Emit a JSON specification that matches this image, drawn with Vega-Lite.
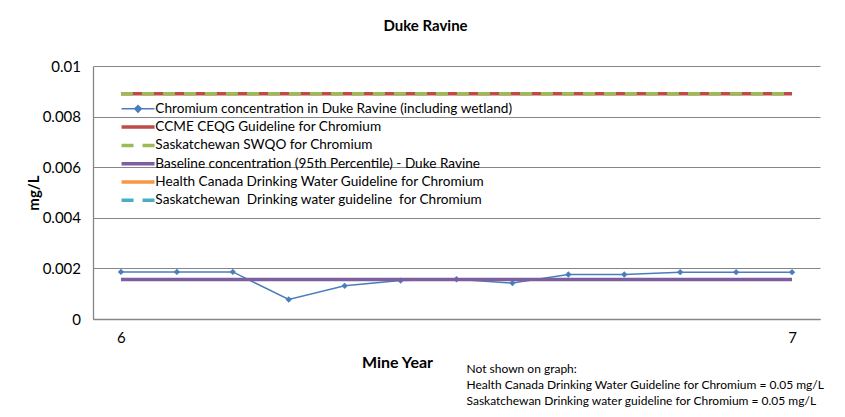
{
  "$schema": "https://vega.github.io/schema/vega-lite/v6.json",
  "autosize": {"type": "none"},
  "width": 727,
  "height": 253,
  "padding": {"left": 93, "top": 66, "right": 25, "bottom": 98},
  "background": "white",
  "title": {
    "text": "Duke Ravine",
    "anchor": "middle",
    "dx": -31,
    "offset": 25,
    "font": "Lato",
    "fontSize": 15,
    "fontWeight": "bold",
    "color": "#000000"
  },
  "config": {
    "view": {"stroke": null},
    "font": "Lato",
    "axis": {
      "labelFont": "Lato",
      "labelFontSize": 15,
      "labelColor": "#000000",
      "titleFont": "Lato",
      "titleFontSize": 16,
      "titleFontWeight": "bold",
      "titleColor": "#000000",
      "domainColor": "#868686",
      "domainWidth": 1.3,
      "gridColor": "#868686",
      "gridWidth": 1,
      "ticks": false
    },
    "legend": {
      "labelFont": "Lato",
      "labelFontSize": 13.6,
      "labelColor": "#000000",
      "labelLimit": 600,
      "symbolType": "stroke",
      "symbolSize": 121,
      "symbolStrokeWidth": 3.5,
      "rowPadding": 3.3,
      "labelOffset": 10.5,
      "symbolOffset": 9.25,
      "padding": 0
    }
  },
  "datasets": {
    "obs": [
      {"i": 0, "s": "Chromium concentration in Duke Ravine (including wetland)", "v": 0.00186},
      {"i": 1, "s": "Chromium concentration in Duke Ravine (including wetland)", "v": 0.00186},
      {"i": 2, "s": "Chromium concentration in Duke Ravine (including wetland)", "v": 0.00186},
      {"i": 3, "s": "Chromium concentration in Duke Ravine (including wetland)", "v": 0.00077},
      {"i": 4, "s": "Chromium concentration in Duke Ravine (including wetland)", "v": 0.00131},
      {"i": 5, "s": "Chromium concentration in Duke Ravine (including wetland)", "v": 0.00152},
      {"i": 6, "s": "Chromium concentration in Duke Ravine (including wetland)", "v": 0.00157},
      {"i": 7, "s": "Chromium concentration in Duke Ravine (including wetland)", "v": 0.00142},
      {"i": 8, "s": "Chromium concentration in Duke Ravine (including wetland)", "v": 0.00176},
      {"i": 9, "s": "Chromium concentration in Duke Ravine (including wetland)", "v": 0.00176},
      {"i": 10, "s": "Chromium concentration in Duke Ravine (including wetland)", "v": 0.00185},
      {"i": 11, "s": "Chromium concentration in Duke Ravine (including wetland)", "v": 0.00185},
      {"i": 12, "s": "Chromium concentration in Duke Ravine (including wetland)", "v": 0.00185}
    ],
    "ccme": [
      {"i": 0, "s": "CCME CEQG Guideline for Chromium", "v": 0.0089},
      {"i": 12, "s": "CCME CEQG Guideline for Chromium", "v": 0.0089}
    ],
    "swqo": [
      {"i": 0, "s": "Saskatchewan SWQO for Chromium", "v": 0.0089},
      {"i": 12, "s": "Saskatchewan SWQO for Chromium", "v": 0.0089}
    ],
    "base": [
      {"i": 0, "s": "Baseline concentration (95th Percentile) - Duke Ravine", "v": 0.00156},
      {"i": 12, "s": "Baseline concentration (95th Percentile) - Duke Ravine", "v": 0.00156}
    ]
  },
  "encoding": {
    "x": {
      "field": "i",
      "type": "quantitative",
      "scale": {"domain": [-0.5, 12.5], "nice": false, "zero": false},
      "axis": null
    },
    "y": {
      "field": "v",
      "type": "quantitative",
      "scale": {"domain": [0, 0.01], "nice": false},
      "axis": {
        "values": [0, 0.002, 0.004, 0.006, 0.008, 0.01],
        "format": ".3~f",
        "labelPadding": 12.5,
        "title": "mg/L",
        "titleAngle": -90,
        "titleX": -60,
        "titleY": 126.5,
        "titleAlign": "center",
        "titleBaseline": "middle",
        "titleFontSize": 15
      }
    },
    "color": {
      "field": "s",
      "type": "nominal",
      "scale": {
        "domain": [
          "Chromium concentration in Duke Ravine (including wetland)",
          "CCME CEQG Guideline for Chromium",
          "Saskatchewan SWQO for Chromium",
          "Baseline concentration (95th Percentile) - Duke Ravine",
          "Health Canada Drinking Water Guideline for Chromium",
          "Saskatchewan\u00a0 Drinking water guideline\u00a0 for Chromium"
        ],
        "range": ["#4A7EBB", "#BE4B48", "#9BBB59", "#7D5FA0", "#F79646", "#4BACC6"]
      },
      "legend": {
        "title": null,
        "orient": "none",
        "legendX": 29,
        "legendY": 36,
        "encode": {
          "symbols": {
            "update": {
              "shape": {"signal": "datum.index === 0 ? 'M-3,0H3M0,-0.6L0.6,0L0,0.6L-0.6,0Z' : 'M-3,0H3'"},
              "fill": {"signal": "datum.index === 0 ? '#4A7EBB' : 'transparent'"},
              "strokeWidth": {"signal": "datum.index === 0 ? 1.5 : 3.5"},
              "strokeDash": {"signal": "(datum.index === 2 || datum.index === 5) ? [12, 9] : [1, 0]"}
            }
          }
        }
      }
    }
  },
  "layer": [
    {
      "data": {"name": "obs"},
      "mark": {"type": "line", "strokeWidth": 1.5},
      "encoding": {
        "x": {
          "field": "i",
          "type": "quantitative",
          "axis": {
            "values": [0, 12],
            "labelExpr": "datum.value === 0 ? '6' : '7'",
            "labelPadding": 11,
            "grid": false,
            "title": "Mine Year",
            "titleX": 304,
            "titleY": 43,
            "titleAlign": "center",
            "titleBaseline": "middle"
          }
        }
      }
    },
    {
      "data": {"name": "obs"},
      "mark": {"type": "point", "shape": "diamond", "filled": true, "size": 40, "opacity": 1}
    },
    {
      "data": {"name": "ccme"},
      "mark": {"type": "line", "strokeWidth": 3.5}
    },
    {
      "data": {"name": "swqo"},
      "mark": {"type": "line", "strokeWidth": 3.5, "strokeDash": [12, 9]}
    },
    {
      "data": {"name": "base"},
      "mark": {"type": "line", "strokeWidth": 3.5},
      "encoding": {
        "x": {
          "field": "i",
          "type": "quantitative",
          "axis": {
            "orient": "bottom",
            "domain": false,
            "labels": false,
            "grid": false,
            "ticks": false,
            "values": [],
            "title": ["Not shown on graph:", "Health Canada Drinking Water Guideline for Chromium = 0.05 mg/L", "Saskatchewan Drinking water guideline for Chromium = 0.05 mg/L"],
            "titleFontWeight": "normal",
            "titleFontSize": 12,
            "titleLineHeight": 16,
            "titleAlign": "left",
            "titleBaseline": "top",
            "titleX": 373,
            "titleY": 44
          }
        }
      }
    }
  ],
  "resolve": {"axis": {"x": "independent"}}
}
